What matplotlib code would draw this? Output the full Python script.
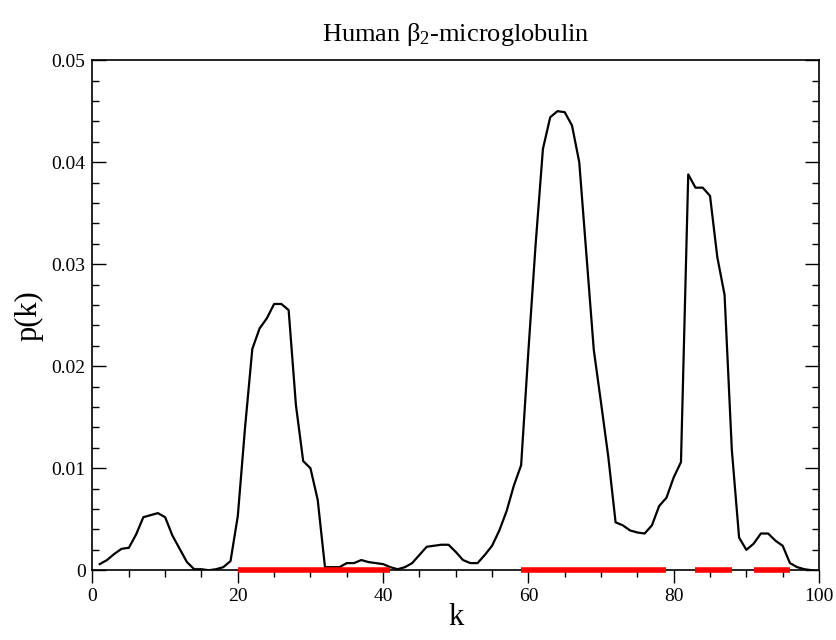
import matplotlib
matplotlib.use("Agg")
import matplotlib.pyplot as plt
from matplotlib.ticker import MultipleLocator
import numpy as np

plt.rcParams["font.family"] = ["Liberation Serif", "DejaVu Serif"]
plt.rcParams["mathtext.fontset"] = "custom"
plt.rcParams["mathtext.rm"] = "Liberation Serif"
plt.rcParams["mathtext.it"] = "Liberation Serif:italic"

# residue index and probability p(k)
k = np.arange(1, 100)
pk = [0.0006, 0.0010, 0.0016, 0.0021, 0.0022, 0.0035, 0.0052, 0.0054, 0.0056, 0.0052,
      0.0034, 0.0021, 0.0008, 0.0001, 0.0001, 0.0000, 0.0001, 0.0003, 0.0009, 0.0053,
      0.0140, 0.0217, 0.0237, 0.0247, 0.0261, 0.0261, 0.0255, 0.0162, 0.0107, 0.0100,
      0.0069, 0.0003, 0.0003, 0.0003, 0.0007, 0.0007, 0.0010, 0.0008, 0.0007, 0.0006,
      0.0003, 0.0001, 0.0003, 0.0007, 0.0015, 0.0023, 0.0024, 0.0025, 0.0025, 0.0018,
      0.0010, 0.0007, 0.0007, 0.0015, 0.0024, 0.0039, 0.0058, 0.0083, 0.0103, 0.0215,
      0.0320, 0.0413, 0.0444, 0.0450, 0.0449, 0.0436, 0.0400, 0.0308, 0.0216, 0.0164,
      0.0111, 0.0047, 0.0044, 0.0039, 0.0037, 0.0036, 0.0044, 0.0063, 0.0071, 0.0091,
      0.0106, 0.0388, 0.0375, 0.0375, 0.0367, 0.0307, 0.0270, 0.0118, 0.0032, 0.0020,
      0.0026, 0.0036, 0.0036, 0.0029, 0.0024, 0.0007, 0.0003, 0.0001, 0.0000]

# highlighted segments along the k axis
seg_start = [20, 59, 83, 91]
seg_end = [41, 79, 88, 96]

fig = plt.figure(figsize=(8.37, 6.4), dpi=100)
ax = fig.add_axes([0.1105, 0.109, 0.868, 0.797])

ax.plot(k, pk, color="black", lw=1.6)
for s, e in zip(seg_start, seg_end):
    ax.plot([s, e], [0, 0], color="red", lw=4, solid_capstyle="butt", clip_on=False, zorder=5)

ax.set_xlim(0, 100)
ax.set_ylim(0, 0.05)
ax.xaxis.set_major_locator(MultipleLocator(20))
ax.xaxis.set_minor_locator(MultipleLocator(5))
ax.yaxis.set_major_locator(MultipleLocator(0.01))
ax.yaxis.set_minor_locator(MultipleLocator(0.002))
ax.yaxis.set_major_formatter(plt.FuncFormatter(lambda v, p: "0" if v == 0 else "%.2f" % v))

# x ticks point out, y ticks point in on both sides, none on top
ax.tick_params(axis="x", which="both", direction="out", top=False, labelsize=14, pad=4)
ax.tick_params(axis="x", which="major", length=9, width=1)
ax.tick_params(axis="x", which="minor", length=5, width=1)
ax.tick_params(axis="y", which="both", direction="in", right=True, labelsize=14, pad=5)
ax.tick_params(axis="y", which="major", length=10, width=1)
ax.tick_params(axis="y", which="minor", length=5, width=1)
for sp in ax.spines.values():
    sp.set_linewidth(1.2)

ax.set_xlabel("k", fontsize=22, labelpad=-2)
ax.set_ylabel("p(k)", fontsize=22, labelpad=6)
ax.set_title("Human β$_2$-microglobulin", fontsize=19, pad=14)

fig.savefig("out.png", dpi=100)
